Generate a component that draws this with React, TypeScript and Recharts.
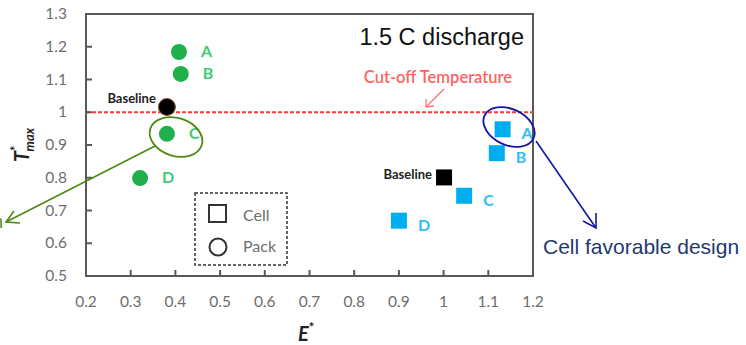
import React from 'react';
import {
  ScatterChart,
  Scatter,
  XAxis,
  YAxis,
  ReferenceLine,
  ReferenceArea,
} from 'recharts';

const xTicks = [0.2, 0.3, 0.4, 0.5, 0.6, 0.7, 0.8, 0.9, 1, 1.1, 1.2];
const yTicks = [0.5, 0.6, 0.7, 0.8, 0.9, 1, 1.1, 1.2, 1.3];

const packLabels = ['A', 'B', 'C', 'D'];
const packE = [0.408, 0.412, 0.381, 0.321];
const packT = [1.184, 1.117, 0.934, 0.799];

const cellLabels = ['A', 'B', 'C', 'D'];
const cellE = [1.132, 1.119, 1.046, 0.9];
const cellT = [0.948, 0.875, 0.745, 0.669];

const baselineKind = ['pack', 'cell'];
const baselineE = [0.381, 1.001];
const baselineT = [1.016, 0.801];

const cutoffT = 1;

const packData = packE.map((e, i) => ({ x: e, y: packT[i], label: packLabels[i] }));
const cellData = cellE.map((e, i) => ({ x: e, y: cellT[i], label: cellLabels[i] }));
const baselineData = baselineE.map((e, i) => ({ x: e, y: baselineT[i], kind: baselineKind[i] }));

const AXIS = '#595959';
const TICK_TEXT = '#6e6e6e';
const FONT = 'Lato, "Open Sans", sans-serif';
const ARIAL = '"Liberation Sans", Arial, sans-serif';

const fmt = (v: number) => String(Math.round(v * 10) / 10);

const XTick = (props: any) => {
  const { x, y, payload } = props;
  return (
    <g>
      <line x1={x} y1={y} x2={x} y2={y - 6} stroke={AXIS} strokeWidth={2} />
      <text x={x} y={y + 31} textAnchor="middle" fill={TICK_TEXT} fontSize={15.5} fontFamily={FONT}>
        {fmt(payload.value)}
      </text>
    </g>
  );
};

const YTick = (props: any) => {
  const { x, y, payload } = props;
  return (
    <g>
      <line x1={x} y1={y} x2={x + 6} y2={y} stroke={AXIS} strokeWidth={2} />
      <text x={x - 19} y={y + 5} textAnchor="end" fill={TICK_TEXT} fontSize={15.5} fontFamily={FONT}>
        {fmt(payload.value)}
      </text>
    </g>
  );
};

const PackShape = (props: any) => {
  const { cx, cy, payload } = props;
  return (
    <g>
      <circle cx={cx} cy={cy} r={8} fill="#1fb04c" />
      <text x={cx + 22} y={cy + 5} fill="#3dcc6e" fontSize={16} fontWeight={700} fontFamily={FONT}>
        {payload.label}
      </text>
    </g>
  );
};

const CellShape = (props: any) => {
  const { cx, cy, payload } = props;
  return (
    <g>
      <rect x={cx - 8} y={cy - 8} width={16} height={16} fill="#00aeef" />
      <text x={cx + 19} y={cy + 10} fill="#33bdf2" fontSize={16} fontWeight={700} fontFamily={FONT}>
        {payload.label}
      </text>
    </g>
  );
};

const BaselineShape = (props: any) => {
  const { cx, cy, payload } = props;
  const isPack = payload.kind === 'pack';
  return (
    <g>
      {isPack ? (
        <circle cx={cx} cy={cy} r={8.5} fill="#000" stroke="#8a5a3a" strokeWidth={1} />
      ) : (
        <rect x={cx - 8} y={cy - 8} width={16} height={16} fill="#000" />
      )}
      <text
        x={cx - (isPack ? 11 : 12)}
        y={cy + (isPack ? -4 : 2)}
        textAnchor="end"
        fill="#222"
        fontSize={13}
        fontWeight={700}
        fontFamily={FONT}
      >
        Baseline
      </text>
    </g>
  );
};

const Overlay = () => (
  <svg
    width={746}
    height={345}
    style={{ position: 'absolute', left: 0, top: 0, pointerEvents: 'none' }}
  >
    {/* title */}
    <text x={524} y={45} textAnchor="end" fontSize={23.5} fill="#111" fontFamily={ARIAL}>
      1.5 C discharge
    </text>

    {/* cut-off annotation */}
    <text x={438} y={83} textAnchor="middle" fontSize={16.5} fontWeight={600} fill="#ff6262" fontFamily={FONT}>
      Cut-off Temperature
    </text>
    <line x1={444} y1={89} x2={426} y2={107} stroke="#ff7070" strokeWidth={1.3} />
    <polyline points="426,99 426,107 434,106" fill="none" stroke="#ff7070" strokeWidth={1.3} />

    {/* legend box */}
    <rect x={195} y={193} width={92} height={72} fill="#fff" stroke="#333" strokeWidth={1.5} strokeDasharray="3 2" />
    <rect x={209} y={205} width={17} height={17} fill="none" stroke="#333" strokeWidth={2} />
    <text x={243} y={221} fill={TICK_TEXT} fontSize={16} fontFamily={FONT}>Cell</text>
    <circle cx={218} cy={247} r={8.5} fill="none" stroke="#333" strokeWidth={2} />
    <text x={243} y={252} fill={TICK_TEXT} fontSize={16} fontFamily={FONT}>Pack</text>

    {/* pack favorable annotation */}
    <ellipse cx={176} cy={137} rx={27} ry={19} transform="rotate(18 176 137)" fill="none" stroke="#4d8a10" strokeWidth={1.8} />
    <line x1={155} y1={146} x2={6} y2={222} stroke="#4d8a10" strokeWidth={1.6} />
    <polyline points="14,211 6,222 20,223" fill="none" stroke="#4d8a10" strokeWidth={1.6} />
    <text x={3} y={228} textAnchor="end" fill="#4d8a10" fontSize={18} fontFamily={ARIAL}>
      Pack favorable design
    </text>

    {/* cell favorable annotation */}
    <ellipse cx={509} cy={127} rx={27} ry={18} transform="rotate(25 509 127)" fill="none" stroke="#1414a8" strokeWidth={1.8} />
    <line x1={536} y1={141} x2={596} y2={228} stroke="#1414a8" strokeWidth={1.6} />
    <polyline points="583,221 596,228 596,213" fill="none" stroke="#1414a8" strokeWidth={1.6} />
    <text x={543} y={254} fill="#1f3a6e" fontSize={21} fontFamily={ARIAL}>
      Cell favorable design
    </text>

    {/* axis titles */}
    <g transform="translate(29 145) rotate(-90)">
      <text x={0} y={0} textAnchor="middle" fontFamily={FONT} fill="#222">
        <tspan fontSize={20} fontWeight={700} fontStyle="italic">T</tspan>
        <tspan fontSize={13} fontWeight={700} dy={-9}>*</tspan>
        <tspan fontSize={13} fontStyle="italic" fontWeight={700} dx={-6} dy={14}>max</tspan>
      </text>
    </g>
    <text x={298} y={341} fontFamily={FONT} fill="#222">
      <tspan fontSize={20} fontWeight={700} fontStyle="italic">E</tspan>
      <tspan fontSize={13} fontWeight={700} dy={-9}>*</tspan>
    </text>
  </svg>
);

export default function App() {
  return (
    <div style={{ position: 'absolute', left: 0, top: 0, width: 746, height: 345, background: '#fff' }}>
      <ScatterChart width={746} height={345} margin={{ top: 14, right: 213, bottom: 39, left: 26 }}>
        <XAxis
          type="number"
          dataKey="x"
          domain={[0.2, 1.2]}
          ticks={xTicks}
          height={30}
          axisLine={false}
          tickLine={false}
          tickSize={0}
          tickMargin={0}
          tick={<XTick />}
          allowDataOverflow
        />
        <YAxis
          type="number"
          dataKey="y"
          domain={[0.5, 1.3]}
          ticks={yTicks}
          width={60}
          axisLine={false}
          tickLine={false}
          tickSize={0}
          tickMargin={0}
          tick={<YTick />}
          allowDataOverflow
        />
        <ReferenceArea x1={0.2} x2={1.2} y1={0.5} y2={1.3} fill="none" stroke={AXIS} strokeWidth={2} />
        <ReferenceLine y={cutoffT} stroke="#ff3b3b" strokeWidth={2} strokeDasharray="4 2" />
        <Scatter data={packData} shape={<PackShape />} isAnimationActive={false} />
        <Scatter data={cellData} shape={<CellShape />} isAnimationActive={false} />
        <Scatter data={baselineData} shape={<BaselineShape />} isAnimationActive={false} />
      </ScatterChart>
      <Overlay />
    </div>
  );
}
